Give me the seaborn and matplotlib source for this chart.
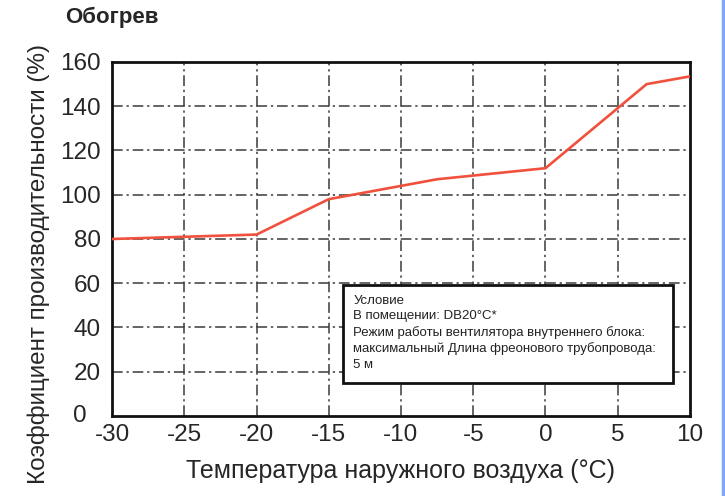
import matplotlib
matplotlib.use("Agg")
import matplotlib.pyplot as plt
import matplotlib.transforms as mtransforms
import seaborn as sns
import pandas as pd
from matplotlib.patches import Rectangle
from matplotlib.lines import Line2D


temperature = [-30, -20, -15, -7.5, 0, 7, 10]
capacity = [80, 82, 98, 107, 112, 150, 153.5]

x_ticks = [-30, -25, -20, -15, -10, -5, 0, 5, 10]
y_ticks = [0, 20, 40, 60, 80, 100, 120, 140, 160]

note_lines = [
    "Условие",
    "В помещении: DB20°C*",
    "Режим работы вентилятора внутреннего блока:",
    "максимальный Длина фреонового трубопровода:",
    "5 м",
]

df = pd.DataFrame({"t": temperature, "k": capacity})

sns.set_style("white")
plt.rcParams["font.family"] = ["Liberation Sans", "DejaVu Sans"]

fig = plt.figure(figsize=(7.25, 4.96), dpi=100)
ax = fig.add_axes([0.1545, 0.1613, 0.7972, 0.7137])

# dash-dot grid
grid_style = dict(color="#3a3a3a", linewidth=1.1, linestyle=(0, (7, 2.5, 1.5, 2.5)), zorder=1)
for xv in x_ticks[1:-1]:
    ax.axvline(xv, **grid_style)
for yv in y_ticks[1:-1]:
    ax.axhline(yv, **grid_style)

sns.lineplot(data=df, x="t", y="k", color="#f0503c", linewidth=1.9, ax=ax, zorder=3)

ax.set_xlim(-30, 10)
ax.set_ylim(0, 160)
ax.set_xticks(x_ticks)
ax.set_yticks(y_ticks)
ax.set_xticklabels([str(v) for v in x_ticks], fontsize=17.5)
ax.set_yticklabels([str(v) for v in y_ticks], fontsize=17.5)
ax.tick_params(axis="x", length=0, pad=6)
ax.tick_params(axis="y", length=0, pad=8)

# the "0" sits a bit left and up, clear of "-30"
zero_lbl = ax.get_yticklabels()[0]
zero_lbl.set_transform(zero_lbl.get_transform() +
                       mtransforms.ScaledTranslation(-10 / 72, 2 / 72, fig.dpi_scale_trans))

for s in ax.spines.values():
    s.set_linewidth(2)
    s.set_color("#111111")

ax.set_xlabel("Температура наружного воздуха (°C)", fontsize=18, labelpad=9)
ax.set_ylabel("Коэффициент производительности (%)", fontsize=17.5)
ax.yaxis.set_label_coords(-0.107, 0.43)

box = Rectangle((-14.0, 15.0), 22.8, 44.2, facecolor="white", edgecolor="#111111",
                linewidth=2, zorder=4)
ax.add_patch(box)
ax.text(-13.3, 54.6, "\n".join(note_lines), fontsize=9.5, va="top", ha="left",
        linespacing=1.36, color="#222222", zorder=5)

fig.text(0.09, 0.965, "Обогрев", fontsize=16, fontweight="bold", va="center", ha="left")

# blue frame edge at the right of the screenshot
fig.add_artist(Line2D([0.9975, 0.9975], [0, 1], transform=fig.transFigure,
                      color="#7aaaf0", linewidth=2.5))

fig.savefig("out.png", dpi=100)
